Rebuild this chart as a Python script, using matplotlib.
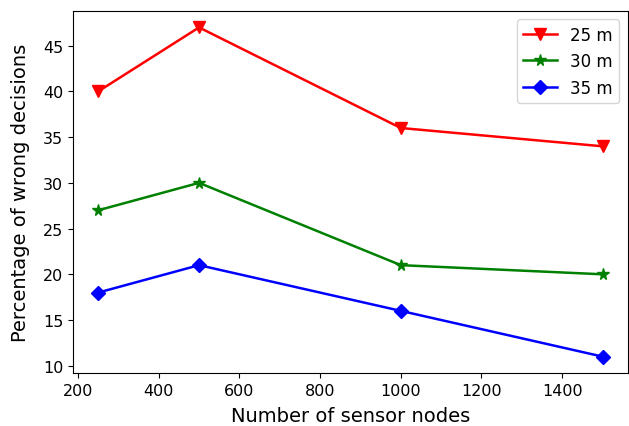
import matplotlib
matplotlib.use('Agg')
import matplotlib.pyplot as plt

# number of sensor nodes and percentage of wrong decisions per range
nodes = [250, 500, 1000, 1500]
wrong_25m = [40, 47, 36, 34]
wrong_30m = [27, 30, 21, 20]
wrong_35m = [18, 21, 16, 11]

fig, ax = plt.subplots(figsize=(6.29, 4.27), dpi=100)

ax.plot(nodes, wrong_25m, color='red', marker='v', markersize=8.5, linewidth=1.8, label='25 m')
ax.plot(nodes, wrong_30m, color='green', marker='*', markersize=8.5, linewidth=1.8, label='30 m')
ax.plot(nodes, wrong_35m, color='blue', marker='D', markersize=7.5, linewidth=1.8, label='35 m')

ax.set_xlabel('Number of sensor nodes', fontsize=14, labelpad=6)
ax.set_ylabel('Percentage of wrong decisions', fontsize=14, labelpad=9)
ax.tick_params(labelsize=11.5)
ax.legend(fontsize=12)

fig.subplots_adjust(left=0.116, right=0.998, top=0.972, bottom=0.124)
plt.savefig('out.png')
